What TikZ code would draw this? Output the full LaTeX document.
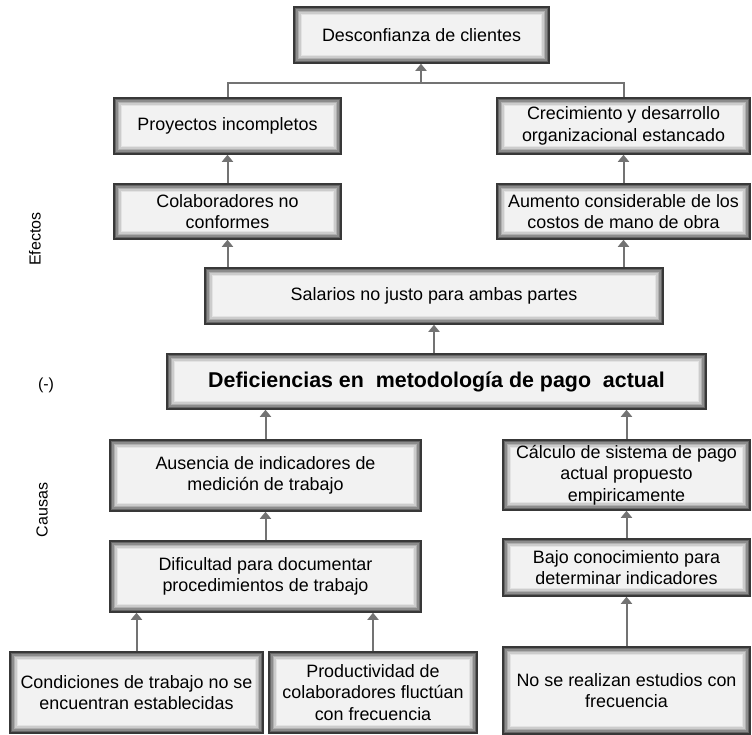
\documentclass[tikz,border=0pt]{standalone}
\usepackage{fontspec}
\setmainfont{Liberation Sans}
\usetikzlibrary{arrows.meta,calc}
\tikzset{
  box/.style={draw=black!78, line width=1.5pt, fill=black!5, inner sep=0pt,
    align=center, font=\fontsize{17.9}{21.7}\selectfont,
    path picture={
      \foreach \i/\c in {1.5/60,3/45,4.5/31,6/20,7.5/11,9/5}{
        \draw[black!\c, line width=1.6pt]
          ([shift={(\i pt,-\i pt)}]path picture bounding box.north west) rectangle
          ([shift={(-\i pt,\i pt)}]path picture bounding box.south east);
      }
    }},
  arr/.style={draw=black!55, line width=2pt, -{Triangle[width=11pt,length=7pt]}},
  ln/.style={draw=black!55, line width=2pt},
  side/.style={font=\fontsize{16}{19}\selectfont}
}
\begin{document}
\begin{tikzpicture}[x=1pt,y=-1pt]
\useasboundingbox (0,0) rectangle (752,734);
\fill[white] (0,0) rectangle (752,734);

\node[box, minimum width=255pt, minimum height=56pt] (des) at (421.5,35) {Desconfianza de clientes};
\node[box, minimum width=227pt, minimum height=56pt] (pro) at (227.5,126) {Proyectos incompletos};
\node[box, minimum width=253pt, minimum height=56pt] (cre) at (623.5,126) {Crecimiento y desarrollo\\organizacional estancado};
\node[box, minimum width=227pt, minimum height=55pt] (col) at (227.5,211.5) {Colaboradores no\\conformes};
\node[box, minimum width=253pt, minimum height=55pt] (aum) at (623.5,211.5) {Aumento considerable de los\\costos de mano de obra};
\node[box, minimum width=458pt, minimum height=56pt] (sal) at (434,296) {Salarios no justo para ambas partes};
\node[box, minimum width=539pt, minimum height=55pt, font=\fontsize{21.4}{25}\selectfont\bfseries] (def) at (436.5,381.5) {Deficiencias en\ \ metodología de pago\ \ actual};
\node[box, minimum width=311pt, minimum height=71pt] (aus) at (265.5,475.5) {Ausencia de indicadores de\\medición de trabajo};
\node[box, minimum width=247pt, minimum height=70pt] (cal) at (626.5,475) {Cálculo de sistema de pago\\actual propuesto\\empiricamente};
\node[box, minimum width=311pt, minimum height=71pt] (dif) at (265.5,576.5) {Dificultad para documentar\\procedimientos de trabajo};
\node[box, minimum width=247pt, minimum height=57pt] (baj) at (626.5,567.5) {Bajo conocimiento para\\determinar indicadores};
\node[box, minimum width=253pt, minimum height=81pt] (con) at (136.5,692.5) {Condiciones de trabajo no se\\encuentran establecidas};
\node[box, minimum width=208pt, minimum height=81pt] (prd) at (373,692.5) {Productividad de\\colaboradores fluctúan\\con frecuencia};
\node[box, minimum width=247pt, minimum height=87pt] (nos) at (626.5,690.5) {No se realizan estudios con\\frecuencia};

\node[side, rotate=90] (efe) at (35,239) {Efectos};
\node[side] (neg) at (46,385) {(-)};
\node[side, rotate=90] (cau) at (42,510) {Causas};

% connectors
\coordinate (bar) at (421,83);
\draw[ln] (pro.north) |- (bar);
\draw[ln] (cre.north) |- (bar);
\draw[arr] (bar) -- (bar |- des.south);
\draw[arr] (col.north) -- (pro.south);
\draw[arr] (aum.north) -- (cre.south);
\draw[arr] (sal.north -| col.south) -- (col.south);
\draw[arr] (sal.north -| aum.south) -- (aum.south);
\draw[arr] (def.north -| sal.south) -- (sal.south);
\draw[arr] (aus.north) -- (aus.north |- def.south);
\draw[arr] (cal.north) -- (cal.north |- def.south);
\draw[arr] (dif.north) -- (aus.south);
\draw[arr] (baj.north) -- (cal.south);
\draw[arr] (nos.north) -- (baj.south);
\draw[arr] (con.north) -- (con.north |- dif.south);
\draw[arr] (prd.north) -- (prd.north |- dif.south);
\end{tikzpicture}
\end{document}
